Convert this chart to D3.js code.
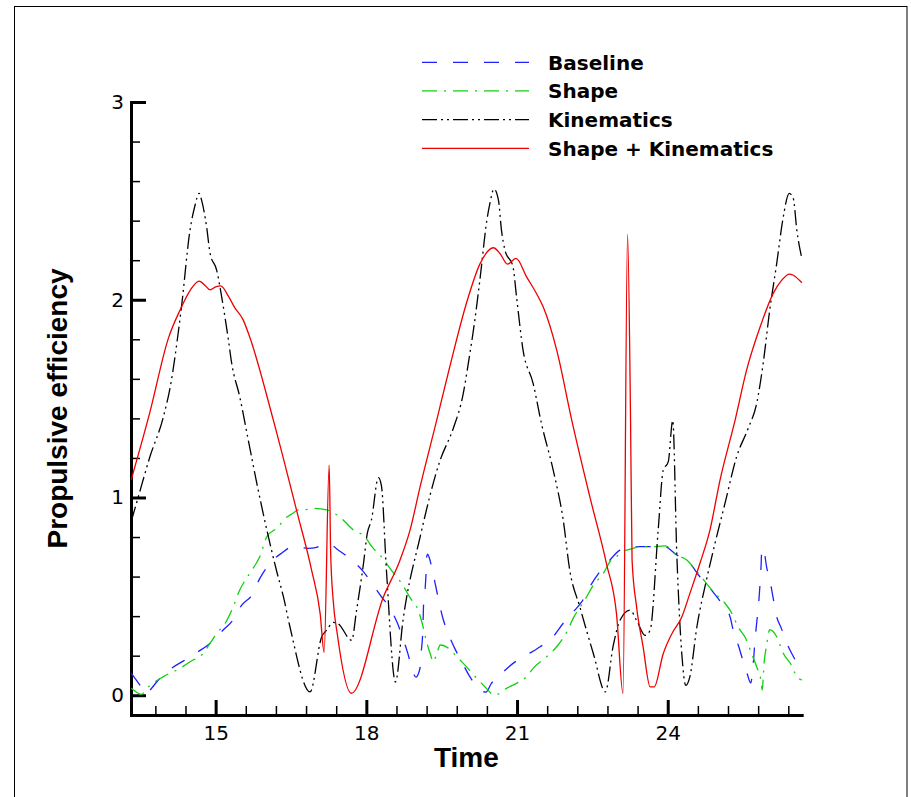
<!DOCTYPE html>
<html>
<head>
<meta charset="utf-8">
<script src="https://cdn.jsdelivr.net/npm/d3@7/dist/d3.min.js"></script>
<style>
  html, body { margin: 0; padding: 0; background: #fff; }
  svg { display: block; }
</style>
</head>
<body>
<svg id="chart" width="911" height="797"></svg>
<script>
// Propulsive efficiency over time for four fin configurations
const xTicks = [15, 18, 21, 24];
const yTicks = [0, 1, 2, 3];
const seriesNames = ["Baseline", "Shape", "Kinematics", "Shape + Kinematics"];

// [time, efficiency]
const baseline = [
  [13.32, 0.111], [13.49, 0.052], [13.6, 0.008], [13.66, 0.018], [13.86, 0.077], [14.12, 0.136],
  [14.39, 0.178], [14.65, 0.22], [14.89, 0.263], [15.15, 0.33], [15.32, 0.372], [15.52, 0.456],
  [15.72, 0.506], [15.88, 0.591], [16.08, 0.667], [16.31, 0.718], [16.54, 0.751], [16.84, 0.743],
  [17.01, 0.748], [17.14, 0.76], [17.28, 0.762], [17.44, 0.734], [17.67, 0.692], [17.94, 0.625],
  [18.11, 0.566], [18.30, 0.498], [18.47, 0.44], [18.62, 0.364], [18.72, 0.293], [18.83, 0.208],
  [18.90, 0.139], [18.99, 0.092], [19.07, 0.139], [19.09, 0.212], [19.12, 0.305], [19.13, 0.375],
  [19.14, 0.461], [19.17, 0.536], [19.19, 0.625], [19.20, 0.698], [19.22, 0.714], [19.25, 0.698],
  [19.32, 0.625], [19.39, 0.541], [19.45, 0.468], [19.53, 0.384], [19.63, 0.313], [19.76, 0.237],
  [19.90, 0.169], [20.06, 0.094], [20.23, 0.035], [20.38, 0.016], [20.49, 0.06], [20.66, 0.102],
  [20.92, 0.161], [21.19, 0.203], [21.46, 0.245], [21.69, 0.288], [21.92, 0.364], [22.12, 0.422],
  [22.29, 0.473], [22.45, 0.549], [22.65, 0.625], [22.82, 0.675], [23.05, 0.734], [23.31, 0.751],
  [23.66, 0.751], [23.91, 0.755], [24.18, 0.709], [24.44, 0.667], [24.64, 0.599], [24.84, 0.541],
  [25.07, 0.465], [25.24, 0.397], [25.31, 0.321], [25.41, 0.249], [25.51, 0.164], [25.59, 0.102],
  [25.65, 0.062], [25.71, 0.182], [25.73, 0.254], [25.79, 0.414], [25.82, 0.498], [25.84, 0.574],
  [25.86, 0.664], [25.87, 0.731], [25.90, 0.745], [25.97, 0.647], [26.04, 0.574], [26.10, 0.49],
  [26.15, 0.417], [26.27, 0.333], [26.37, 0.263], [26.52, 0.187], [26.67, 0.119]
];

const shape = [
  [13.32, 0.035], [13.46, 0.01], [13.52, 0.004], [13.63, 0.035], [13.96, 0.094], [14.29, 0.136],
  [14.55, 0.178], [14.69, 0.195], [14.89, 0.263], [15.02, 0.313], [15.19, 0.364], [15.35, 0.448],
  [15.48, 0.532], [15.68, 0.617], [15.88, 0.701], [16.02, 0.802], [16.25, 0.852], [16.35, 0.886],
  [16.54, 0.92], [16.64, 0.937], [16.84, 0.94], [16.98, 0.945], [17.21, 0.937], [17.54, 0.886],
  [17.67, 0.852], [17.74, 0.836], [17.97, 0.802], [18.11, 0.751], [18.30, 0.7], [18.52, 0.625],
  [18.70, 0.566], [18.88, 0.49], [19.03, 0.431], [19.13, 0.346], [19.19, 0.279], [19.28, 0.203],
  [19.33, 0.169], [19.40, 0.208], [19.47, 0.254], [19.61, 0.242], [19.80, 0.195], [19.93, 0.161],
  [20.20, 0.085], [20.36, 0.043], [20.55, 0.0], [20.79, 0.035], [20.99, 0.06], [21.19, 0.094],
  [21.32, 0.136], [21.59, 0.195], [21.79, 0.245], [21.99, 0.32], [22.12, 0.39], [22.35, 0.482],
  [22.52, 0.557], [22.72, 0.617], [22.85, 0.675], [22.98, 0.701], [23.05, 0.718], [23.31, 0.743],
  [23.45, 0.751], [23.66, 0.751], [23.95, 0.755], [24.18, 0.709], [24.38, 0.684], [24.58, 0.625],
  [24.77, 0.566], [24.94, 0.515], [25.14, 0.465], [25.26, 0.422], [25.40, 0.346], [25.55, 0.288],
  [25.68, 0.203], [25.77, 0.144], [25.86, 0.068], [25.88, 0.026], [25.92, 0.169], [25.97, 0.254],
  [26.03, 0.332], [26.17, 0.296], [26.30, 0.212], [26.46, 0.153], [26.57, 0.094], [26.67, 0.077]
];

const kinematics = [
  [13.32, 0.88], [13.46, 1.003], [13.69, 1.205], [13.96, 1.408], [14.12, 1.593], [14.24, 1.804],
  [14.32, 1.964], [14.49, 2.352], [14.59, 2.478], [14.67, 2.538], [14.72, 2.504], [14.82, 2.369],
  [14.89, 2.234], [15.02, 2.15], [15.12, 2.015], [15.25, 1.804], [15.32, 1.678], [15.48, 1.509],
  [15.65, 1.29], [15.82, 1.071], [16.02, 0.835], [16.21, 0.632], [16.35, 0.497], [16.48, 0.345],
  [16.88, 0.017], [17.11, 0.295], [17.21, 0.329], [17.34, 0.368], [17.43, 0.363], [17.71, 0.278],
  [17.80, 0.42], [17.94, 0.66], [18.02, 0.82], [18.10, 0.885], [18.24, 1.10], [18.30, 1.06],
  [18.40, 0.632], [18.58, 0.067], [18.73, 0.379], [19.07, 0.80], [19.47, 1.189], [19.73, 1.349],
  [19.93, 1.526], [20.03, 1.678], [20.16, 1.897], [20.26, 2.099], [20.40, 2.403], [20.46, 2.487],
  [20.54, 2.56], [20.63, 2.504], [20.69, 2.352], [20.76, 2.251], [20.92, 2.166], [20.99, 2.015],
  [21.12, 1.745], [21.32, 1.577], [21.49, 1.37], [21.72, 1.138], [21.92, 0.885], [22.05, 0.632],
  [22.25, 0.447], [22.52, 0.21], [22.76, 0.017], [22.91, 0.244], [23.05, 0.379], [23.25, 0.43],
  [23.38, 0.379], [23.55, 0.303], [23.65, 0.329], [23.81, 0.835], [23.91, 1.138], [24.01, 1.18],
  [24.10, 1.39], [24.18, 0.717], [24.28, 0.21], [24.36, 0.05], [24.44, 0.093], [24.58, 0.345],
  [24.77, 0.582], [24.94, 0.767], [25.14, 0.97], [25.37, 1.205], [25.60, 1.349], [25.77, 1.475],
  [25.90, 1.678], [26.03, 1.947], [26.17, 2.184], [26.29, 2.403], [26.42, 2.538], [26.50, 2.512],
  [26.57, 2.352], [26.67, 2.209]
];

const shapeKinematics = [
  [13.32, 1.09], [13.69, 1.43], [14.06, 1.806], [14.29, 1.947], [14.50, 2.05], [14.67, 2.094],
  [14.80, 2.07], [14.89, 2.05], [15.0, 2.065], [15.1, 2.07], [15.25, 2.02], [15.38, 1.96],
  [15.55, 1.897], [15.68, 1.81], [16.15, 1.39], [16.61, 0.936], [16.91, 0.633], [17.08, 0.414],
  [17.16, 0.217], [17.26, 1.164], [17.29, 0.718], [17.34, 0.48], [17.42, 0.313], [17.70, 0.01],
  [18.34, 0.497], [18.67, 0.683], [18.87, 0.835], [19.07, 1.054], [19.40, 1.39], [19.66, 1.66],
  [19.99, 1.98], [20.26, 2.18], [20.53, 2.263], [20.66, 2.234], [20.81, 2.18], [20.98, 2.209],
  [21.19, 2.116], [21.39, 2.03], [21.52, 1.964], [21.79, 1.745], [22.09, 1.39], [22.45, 1.003],
  [22.78, 0.666], [22.98, 0.413], [23.11, 0.009], [23.20, 2.33], [23.26, 1.39], [23.29, 0.684],
  [23.38, 0.447], [23.51, 0.244], [23.65, 0.042], [23.73, 0.042], [23.91, 0.21], [24.08, 0.31],
  [24.28, 0.396], [24.44, 0.514], [24.64, 0.666], [24.84, 0.835], [25.04, 1.087], [25.34, 1.39],
  [25.57, 1.644], [25.84, 1.863], [26.10, 2.032], [26.27, 2.099], [26.42, 2.13], [26.50, 2.124],
  [26.67, 2.086]
];

const seriesData = [baseline, shape, kinematics, shapeKinematics];
const seriesColors = ["#2020ff", "#10d010", "#000000", "#ee0000"];
const seriesDash = ["15,16", "15,7,2,7", "15,4,2,4,2,4", null];

const svg = d3.select("#chart");

// page frame
svg.append("rect")
  .attr("x", 14.5).attr("y", 6.5)
  .attr("width", 892.5).attr("height", 800)
  .attr("fill", "none").attr("stroke", "#000").attr("stroke-width", 1);

const x = d3.scaleLinear().domain([13.315, 26.667]).range([131, 801.7]);
const y = d3.scaleLinear().domain([-0.1, 3]).range([715, 102]);

const tickFont = "'DejaVu Sans', sans-serif";

// minor ticks
const xMinor = d3.range(13.8, 26.5, 0.6).filter(t => Math.abs(t - Math.round(t / 3) * 3) > 0.01);
const yMinor = d3.range(0.2, 3, 0.2).filter(v => Math.abs(v - Math.round(v)) > 0.01);

svg.append("g")
  .attr("transform", `translate(0,${y.range()[0]})`)
  .call(d3.axisBottom(x).tickValues(xMinor).tickSizeInner(-9).tickSizeOuter(0).tickFormat(""))
  .call(g => g.select(".domain").remove())
  .call(g => g.selectAll(".tick line").attr("stroke-width", 1.5));

svg.append("g")
  .attr("transform", `translate(${x.range()[0]},0)`)
  .call(d3.axisLeft(y).tickValues(yMinor).tickSizeInner(-9).tickSizeOuter(0).tickFormat(""))
  .call(g => g.select(".domain").remove())
  .call(g => g.selectAll(".tick line").attr("stroke-width", 1.5));

// major axes
const xAxis = svg.append("g")
  .attr("transform", `translate(0,${y.range()[0]})`)
  .call(d3.axisBottom(x).tickValues(xTicks).tickSizeInner(-15).tickSizeOuter(0).tickPadding(11).tickFormat(d3.format("d")));
xAxis.select(".domain").attr("stroke-width", 3).attr("stroke-linecap", "square");
xAxis.selectAll(".tick line").attr("stroke-width", 3);
xAxis.selectAll(".tick text").attr("font-family", tickFont).attr("font-size", 20).attr("fill", "#000");

const yAxis = svg.append("g")
  .attr("transform", `translate(${x.range()[0]},0)`)
  .call(d3.axisLeft(y).tickValues(yTicks).tickSizeInner(-15).tickSizeOuter(0).tickPadding(7).tickFormat(d3.format("d")));
yAxis.select(".domain").attr("stroke-width", 3).attr("stroke-linecap", "square");
yAxis.selectAll(".tick line").attr("stroke-width", 3);
yAxis.selectAll(".tick text").attr("font-family", tickFont).attr("font-size", 20).attr("fill", "#000");

// axis titles
svg.append("text")
  .attr("x", (x.range()[0] + x.range()[1]) / 2).attr("y", 767)
  .attr("text-anchor", "middle")
  .attr("font-family", "'Liberation Sans', Arial, sans-serif")
  .attr("font-weight", "bold").attr("font-size", 28)
  .text("Time");

svg.append("text")
  .attr("transform", `translate(67,${(y.range()[0] + y.range()[1]) / 2}) rotate(-90)`)
  .attr("text-anchor", "middle")
  .attr("font-family", "'Liberation Sans', Arial, sans-serif")
  .attr("font-weight", "bold").attr("font-size", 28)
  .text("Propulsive efficiency");

// series
const line = d3.line()
  .x(d => x(d[0]))
  .y(d => y(d[1]))
  .curve(d3.curveMonotoneX);

seriesData.forEach((data, i) => {
  svg.append("path")
    .datum(data)
    .attr("d", line)
    .attr("fill", "none")
    .attr("stroke", seriesColors[i])
    .attr("stroke-width", 1.3)
    .attr("stroke-linejoin", "round")
    .attr("stroke-dasharray", seriesDash[i]);
});

// legend
const legend = svg.append("g");
const legendRowY = d3.scalePoint().domain(seriesNames).range([62.3, 148.3]);
seriesNames.forEach((name, i) => {
  const ry = legendRowY(name);
  legend.append("line")
    .attr("x1", 422).attr("x2", 529)
    .attr("y1", ry).attr("y2", ry)
    .attr("stroke", seriesColors[i])
    .attr("stroke-width", 1.3)
    .attr("stroke-dasharray", seriesDash[i]);
  legend.append("text")
    .attr("x", 548).attr("y", ry + 7.3)
    .attr("font-family", "'DejaVu Sans', sans-serif")
    .attr("font-weight", "bold").attr("font-size", 20)
    .attr("fill", "#000")
    .text(name);
});
</script>
</body>
</html>
